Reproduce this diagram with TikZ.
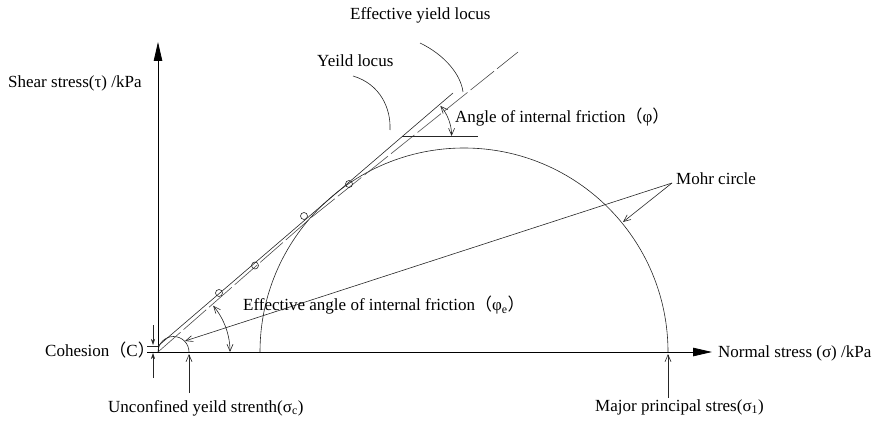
\documentclass[tikz,border=0pt]{standalone}
\usepackage{fontspec}
\setmainfont{Liberation Serif}
\newfontfamily\cjk{Noto Sans CJK SC}
\usetikzlibrary{arrows.meta}
\begin{document}
\begin{tikzpicture}[x=1pt,y=-1pt,
  every node/.style={inner sep=0pt,font=\fontsize{17}{20}\selectfont},
  lbl/.style={anchor=west},
  axis/.style={line width=0.8pt,-{Triangle[length=19pt,width=8.5pt]}},
  thin/.style={line width=0.6pt,draw=black!85},
  barb/.style={-{Straight Barb[length=7pt,width=6pt]}},
  barbs/.style={{Straight Barb[length=7pt,width=6pt]}-{Straight Barb[length=7pt,width=6pt]}},
  smallarr/.style={-{Stealth[length=6pt,width=4pt]}},
  effdash/.style={line width=0.6pt,draw=black!70,dash pattern=on 30pt off 4pt}]
\useasboundingbox (0,0) rectangle (883,422);

% key points
\coordinate (O) at (158,352);
\coordinate (C) at (158,346);
\coordinate (ytop) at (158,42);
\coordinate (xl) at (147,352);
\coordinate (xr) at (712,352);
\coordinate (ylend) at (453,93);
\coordinate (eylmid) at (312,217);
\coordinate (eylend) at (518,52);

% axes
\draw[axis] (O) -- (ytop);
\draw[axis] (xl) -- (xr);

% Mohr circle and unconfined circle
\draw[thin] (668,352) arc[start angle=0,end angle=-180,radius=204];
\draw[thin] (189,352) arc[start angle=0,end angle=-180,radius=15.5];

% yield loci
\draw[thin] (C) -- (ylend);
\draw[effdash] (O) -- (eylmid) -- (eylend);

% test points
\foreach \p in {(219,293),(255,265.5),(304,216),(349,184)}
  \draw[thin] \p circle[radius=3.5];

% angle of internal friction
\coordinate (phic) at (405.6,136);
\draw[thin] (402,136) -- (478,136);
\draw[thin,barbs] (451.6,136) arc[start angle=0,end angle=-41,radius=46];

% effective angle
\draw[thin,barbs] (230,352) arc[start angle=0,end angle=-40,radius=72];

% labels
\node[lbl] (eyl) at (350,15) {Effective yield locus};
\node[lbl] (yl) at (317,61) {Yeild locus};
\node[lbl] (tau) at (8,83) {Shear stress(τ) /kPa};
\node[lbl] (phi) at (455,117) {Angle of internal friction{\cjk（}φ{\cjk）}};
\node[lbl] (mohr) at (676,179) {Mohr circle};
\node[lbl] (phie) at (243,305) {Effective angle of internal friction{\cjk（}φ\textsubscript{e}{\cjk）}};
\node[lbl] (coh) at (45,350) {Cohesion{\cjk（}C{\cjk）}};
\node[lbl] (sig) at (718,353) {Normal stress (σ) /kPa};
\node[lbl] (ucs) at (108,408) {Unconfined yeild strenth(σ\textsubscript{c})};
\node[lbl] (s1) at (595,407) {Major principal stres(σ\textsubscript{1})};

% leaders
\coordinate (eylA) at (420,43);
\coordinate (eylB) at (463,92);
\draw[thin] (eylA) .. controls (445,55) and (461,75) .. (eylB);
\coordinate (ylA) at (353,76);
\coordinate (ylB) at (390,130);
\draw[thin] (ylA) .. controls (380,84) and (391,108) .. (ylB);

\coordinate (mohrA) at (672,183);
\coordinate (mohrS) at (185,341);
\coordinate (mohrB) at (623,222);
\draw[thin,barb] (mohrA) -- (mohrS);
\draw[thin,barb] (mohrA) -- (mohrB);

% cohesion
\draw[thin] (147,346) -- (C);
\coordinate (cohT) at (153,325);
\coordinate (cohTe) at (153,345);
\coordinate (cohB) at (153,378);
\coordinate (cohBe) at (153,353);
\draw[thin,smallarr] (cohT) -- (cohTe);
\draw[thin,smallarr] (cohB) -- (cohBe);

% unconfined and major principal
\coordinate (ucsA) at (189,393);
\coordinate (ucsB) at (189,354);
\draw[thin,barb] (ucsA) -- (ucsB);
\coordinate (s1A) at (668,398);
\coordinate (s1B) at (668,354);
\draw[thin,barb] (s1A) -- (s1B);
\end{tikzpicture}
\end{document}
